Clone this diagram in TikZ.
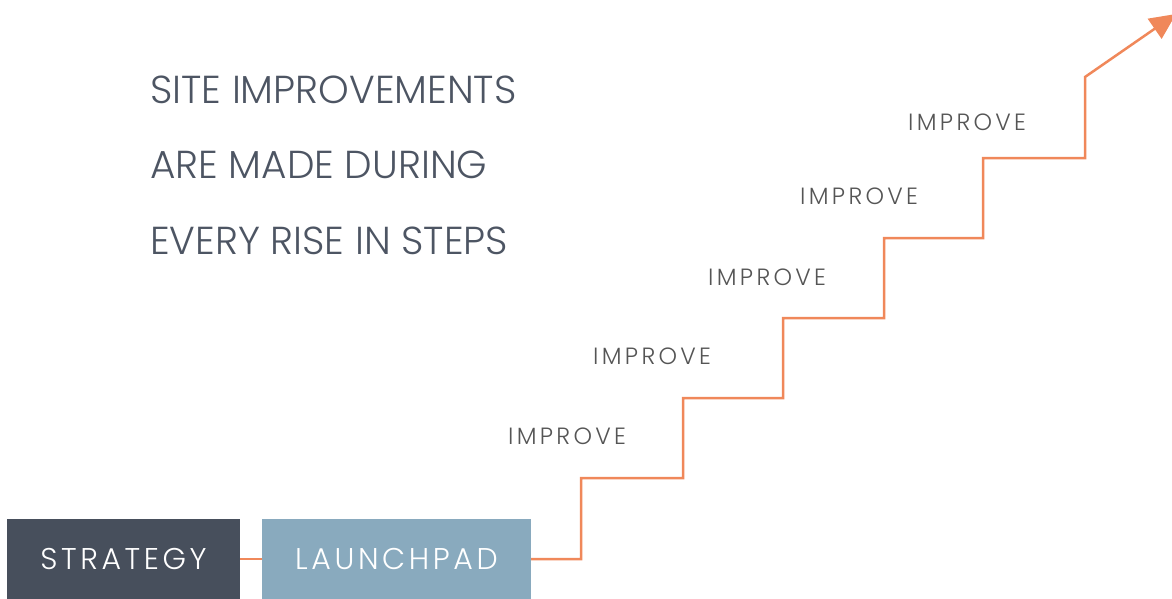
\documentclass[tikz,border=0pt]{standalone}
\usepackage{fontspec}
\setmainfont{Poppins}[UprightFont=* Light]
\usetikzlibrary{arrows.meta}
\definecolor{stairorange}{HTML}{F0885A}
\definecolor{darkbox}{HTML}{474F5C}
\definecolor{lightbox}{HTML}{89AABE}
\definecolor{titlegrey}{HTML}{4D5563}
\definecolor{labelgrey}{HTML}{555555}
\begin{document}
\begin{tikzpicture}[x=1pt,y=-1pt,
  boxstyle/.style={minimum width=#1, minimum height=80pt, inner sep=0pt, text=white,
    font=\fontsize{30}{34}\selectfont\addfontfeatures{LetterSpace=12}},
  stairline/.style={draw=stairorange, line width=2.5pt},
  improvelabel/.style={text=labelgrey, inner sep=0pt, anchor=west,
    font=\fontsize{23.5}{28}\selectfont\addfontfeatures{LetterSpace=14}},
  titleline/.style={text=titlegrey, inner sep=0pt, anchor=west,
    font=\fontsize{39}{46}\selectfont}]
\useasboundingbox (0,0) rectangle (1172,599);
\node[boxstyle=233pt, fill=darkbox] (strategy) at (123.5,559) {STRATEGY};
\node[boxstyle=269pt, fill=lightbox] (launchpad) at (396.5,559) {LAUNCHPAD};
\coordinate (tip) at (1176,14);
\draw[stairline] (strategy.east) -- (launchpad.west);
\draw[stairline, -{Triangle[length=26pt,width=24pt]}] (launchpad.east) -- (581,559) -- (581,478) -- (683,478) -- (683,398)
  -- (783,398) -- (783,318) -- (884,318) -- (884,238) -- (983,238) -- (983,158)
  -- (1085,158) -- (1085,77) -- (tip);
\node[improvelabel] (i1) at (508,436) {IMPROVE};
\node[improvelabel] (i2) at (593,356) {IMPROVE};
\node[improvelabel] (i3) at (708,277) {IMPROVE};
\node[improvelabel] (i4) at (800,196) {IMPROVE};
\node[improvelabel] (i5) at (908,122) {IMPROVE};
\node[titleline] (t1) at (150,90) {SITE IMPROVEMENTS};
\node[titleline] (t2) at (150,165) {ARE MADE DURING};
\node[titleline] (t3) at (150,241) {EVERY RISE IN STEPS};
\end{tikzpicture}
\end{document}
